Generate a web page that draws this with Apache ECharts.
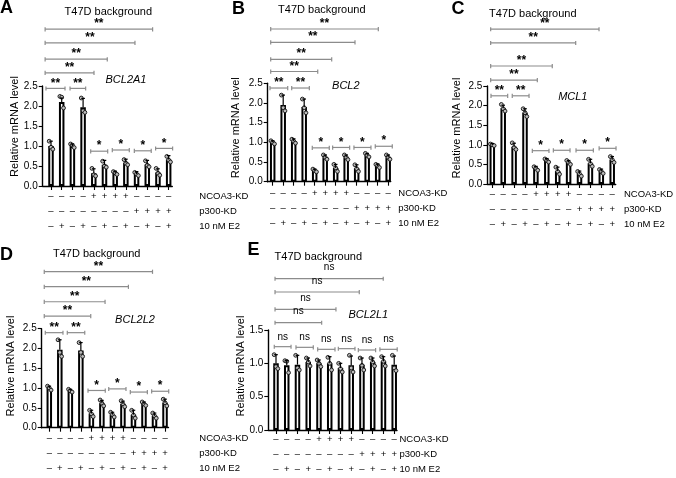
<!DOCTYPE html>
<html><head><meta charset="utf-8">
<script src="https://cdn.jsdelivr.net/npm/echarts@6/dist/echarts.min.js"></script>
<style>html,body{margin:0;padding:0;background:#fff}#c{width:676px;height:478px}</style>
</head><body><div id="c"></div>
<script>
// ---------- data ----------
const ncoa3Row = ['–','–','–','–','+','+','+','+','–','–','–','–'];
const p300Row  = ['–','–','–','–','–','–','–','–','+','+','+','+'];
const e2Row    = ['–','+','–','+','–','+','–','+','–','+','–','+'];
const rowNames = ['NCOA3-KD','p300-KD','10 nM E2'];
const panelLetters = ['A','B','C','D','E'];
const genes = ['BCL2A1','BCL2','MCL1','BCL2L2','BCL2L1'];
const titleText = 'T47D background';
const yAxisName = 'Relative mRNA level';
const yMaxes = [2.5, 2.5, 2.5, 2.5, 1.5];
const barPositions = [1,2,3,4,5,6,7,8,9,10,11,12];

const meanA = [1.0, 2.1, 1.0, 1.97, 0.32, 0.53, 0.32, 0.58, 0.30, 0.54, 0.34, 0.66];
const sdA   = [0.12, 0.10, 0.05, 0.22, 0.11, 0.11, 0.05, 0.09, 0.06, 0.10, 0.09, 0.10];
const dotsA = [[1.12,0.97,0.92],[2.24,2.22,1.95],[1.05,1.02,0.96],[2.2,1.88,1.84],[0.44,0.28,0.25],[0.62,0.5,0.47],
               [0.36,0.33,0.29],[0.66,0.57,0.53],[0.34,0.3,0.26],[0.63,0.52,0.48],[0.44,0.32,0.27],[0.74,0.65,0.6]];

const meanB = [1.0, 1.95, 1.03, 1.9, 0.28, 0.62, 0.35, 0.62, 0.34, 0.67, 0.40, 0.62];
const sdB   = [0.04, 0.25, 0.06, 0.20, 0.04, 0.06, 0.09, 0.06, 0.09, 0.05, 0.05, 0.06];
const dotsB = [[1.04,1.0,0.96],[2.2,1.88,1.8],[1.08,1.03,0.98],[2.1,1.88,1.75],[0.32,0.28,0.25],[0.68,0.62,0.57],
               [0.44,0.35,0.26],[0.68,0.62,0.56],[0.43,0.33,0.26],[0.72,0.67,0.63],[0.44,0.41,0.36],[0.68,0.62,0.57]];

const meanC = [1.0, 1.93, 0.95, 1.82, 0.40, 0.60, 0.33, 0.55, 0.26, 0.53, 0.32, 0.62];
const sdC   = [0.03, 0.08, 0.09, 0.10, 0.05, 0.05, 0.10, 0.05, 0.07, 0.10, 0.06, 0.08];
const dotsC = [[1.02,1.0,0.98],[2.03,1.92,1.86],[1.05,0.93,0.88],[1.92,1.82,1.72],[0.44,0.4,0.35],[0.64,0.6,0.56],
               [0.43,0.32,0.25],[0.6,0.55,0.5],[0.32,0.26,0.2],[0.63,0.52,0.45],[0.37,0.32,0.27],[0.7,0.62,0.55]];

const meanD = [1.0, 1.97, 0.93, 1.95, 0.36, 0.62, 0.33, 0.60, 0.33, 0.60, 0.30, 0.63];
const sdD   = [0.05, 0.25, 0.04, 0.20, 0.08, 0.07, 0.06, 0.07, 0.11, 0.05, 0.07, 0.09];
const dotsD = [[1.05,1.0,0.95],[2.22,1.9,1.8],[0.97,0.93,0.9],[2.15,1.9,1.8],[0.44,0.35,0.28],[0.7,0.62,0.55],
               [0.39,0.33,0.27],[0.68,0.6,0.53],[0.44,0.32,0.24],[0.65,0.6,0.56],[0.37,0.3,0.24],[0.72,0.63,0.55]];

const meanE = [1.0, 0.97, 0.98, 1.02, 1.0, 1.0, 0.93, 0.97, 0.98, 1.02, 1.03, 0.98];
const sdE   = [0.13, 0.07, 0.14, 0.06, 0.05, 0.10, 0.07, 0.14, 0.10, 0.06, 0.07, 0.13];
const dotsE = [[1.13,0.95,0.92],[1.04,1.03,0.86],[1.12,0.93,0.9],[1.08,1.02,0.96],[1.05,1.0,0.95],[1.09,1.0,0.9],
               [1.0,0.92,0.87],[1.12,0.93,0.87],[1.08,0.97,0.9],[1.08,1.02,0.96],[1.1,1.03,0.96],[1.12,0.93,0.89]];

// significance brackets: [from, to, level, label]
const sigA = [[0.45,10.5,3.92,'**'],[0.45,8.85,3.58,'**'],[0.45,6.26,3.17,'**'],[0.45,5.02,2.83,'**'],
              [0.53,2.31,2.44,'**'],[2.78,4.24,2.44,'**'],[4.71,6.3,0.87,'*'],[6.73,8.32,0.9,'*'],[8.79,10.37,0.88,'*'],[10.78,12.37,0.94,'*']];
const sigB = [[0.81,11.06,3.88,'**'],[0.81,8.84,3.54,'**'],[0.81,6.62,3.11,'**'],[0.81,5.29,2.8,'**'],
              [0.74,2.43,2.38,'**'],[2.81,4.49,2.38,'**'],[4.77,6.39,0.86,'*'],[6.71,8.33,0.87,'*'],[8.74,10.36,0.87,'*'],[10.77,12.39,0.9,'*']];
const sigC = [[0.85,10.79,3.95,'**'],[0.85,8.65,3.6,'**'],[0.85,6.5,3.01,'**'],[0.85,5.13,2.65,'**'],
              [0.88,2.41,2.25,'**'],[2.83,4.37,2.25,'**'],[4.67,6.2,0.85,'*'],[6.6,8.13,0.86,'*'],[8.68,10.27,0.86,'*'],[10.8,12.35,0.91,'*']];
const sigD = [[0.52,10.81,3.94,'**'],[0.52,8.52,3.56,'**'],[0.52,6.3,3.18,'**'],[0.52,4.94,2.82,'**'],
              [0.62,2.3,2.4,'**'],[2.71,4.37,2.4,'**'],[4.68,6.32,0.94,'*'],[6.65,8.29,0.98,'*'],[8.7,10.32,0.9,'*'],[10.73,12.35,0.92,'*']];
const sigE = [[0.91,10.98,2.27,'ns'],[0.91,8.75,2.07,'ns'],[0.91,6.58,1.81,'ns'],[0.91,5.25,1.61,'ns'],
              [0.84,2.4,1.25,'ns'],[2.86,4.47,1.24,'ns'],[4.88,6.49,1.21,'ns'],[6.8,8.35,1.22,'ns'],[8.66,10.27,1.2,'ns'],[10.67,12.28,1.21,'ns']];

const means = [meanA, meanB, meanC, meanD, meanE];
const sds = [sdA, sdB, sdC, sdD, sdE];
const dots = [dotsA, dotsB, dotsC, dotsD, dotsE];
const sigs = [sigA, sigB, sigC, sigD, sigE];

// ---------- layout ----------
const FONT = '"Liberation Sans", Arial, Helvetica, sans-serif';
const layout = [
  {left:42.7, top:86,    width:129.6, height:100,  xmin:0.224, xmax:12.34, margin:2.5, rowX:199.3, letter:[0,8.5],     title:[108.3,12.3], gene:[126,80],    yname:[15,126.5]},
  {left:267.7, top:83.3, width:123,   height:98.4, xmin:0.524, xmax:12.24, margin:4,   rowX:398.3, letter:[232,9],     title:[321.8,10],   gene:[345.8,86],  yname:[236,127.7]},
  {left:487.3, top:86,   width:128.4, height:98,   xmin:0.541, xmax:12.32, margin:3,   rowX:624,   letter:[451.5,9],   title:[532.8,14],   gene:[572.8,96.7],yname:[457,128]},
  {left:41.7, top:328.7, width:126.8, height:99,   xmin:0.278, xmax:12.33, margin:3.5, rowX:199.3, letter:[0,255],     title:[96.7,254],   gene:[135,320],   yname:[11,366]},
  {left:268.3, top:330,  width:128.7, height:100,  xmin:0.284, xmax:12.26, margin:2,   rowX:399.5, letter:[247.5,250], title:[318.3,257.3],gene:[368.3,315], yname:[241,366]}
];
const ROW_LH = 15;

const grids = [], xAxes = [], yAxes = [], series = [], graphics = [];
const jitter = [-0.17, 0, 0.17];

layout.forEach((L, k) => {
  grids.push({left:L.left, top:L.top, width:L.width, height:L.height});
  xAxes.push({
    gridIndex:k, type:'value', min:L.xmin, max:L.xmax,
    axisLine:{show:true, onZero:false, lineStyle:{color:'#000', width:1.4}},
    axisTick:{show:true, customValues:barPositions, length:4, lineStyle:{color:'#000', width:1.1}},
    axisLabel:{show:true, customValues:barPositions, margin:L.margin, color:'#000',
      fontFamily:FONT, fontSize:9.5, lineHeight:ROW_LH,
      formatter:(v)=>{const i=Math.round(v)-1; return ncoa3Row[i]+'\n'+p300Row[i]+'\n'+e2Row[i];}},
    splitLine:{show:false}
  });
  yAxes.push({
    gridIndex:k, type:'value', min:0, max:yMaxes[k], interval:0.5,
    axisLine:{show:true, onZero:false, lineStyle:{color:'#000', width:1.4}},
    axisTick:{show:true, length:4, lineStyle:{color:'#000', width:1.1}},
    axisLabel:{margin:5, color:'#000', fontFamily:FONT, fontSize:10, formatter:(v)=>v.toFixed(1)},
    splitLine:{show:false}
  });
  series.push({
    type:'bar', xAxisIndex:k, yAxisIndex:k, barWidth:5.5, z:2,
    itemStyle:{color:'#fff', borderColor:'#000', borderWidth:2},
    data: means[k].map((m,i)=>[barPositions[i], m])
  });
  const dd = [];
  dots[k].forEach((arr,i)=>arr.forEach((v,j)=>dd.push([barPositions[i]+jitter[j], v])));
  series.push({
    type:'scatter', xAxisIndex:k, yAxisIndex:k, z:4, symbol:'circle', symbolSize:3.8,
    itemStyle:{color:'#bdbdbd', borderColor:'#111', borderWidth:0.9, opacity:1},
    data: dd
  });
  series.push({
    type:'custom', xAxisIndex:k, yAxisIndex:k, z:5, clip:false,
    data: means[k].map((m,i)=>[barPositions[i], m, m+sds[k][i]]),
    renderItem:(params, api)=>{
      const p0 = api.coord([api.value(0), api.value(1)]);
      const p1 = api.coord([api.value(0), api.value(2)]);
      const st = {stroke:'#000', lineWidth:1.2};
      return {type:'group', children:[
        {type:'line', shape:{x1:p0[0], y1:p0[1], x2:p1[0], y2:p1[1]}, style:st},
        {type:'line', shape:{x1:p1[0]-1.8, y1:p1[1], x2:p1[0]+1.8, y2:p1[1]}, style:st}
      ]};
    }
  });
  series.push({
    type:'custom', xAxisIndex:k, yAxisIndex:k, z:5, clip:false,
    data: sigs[k].map(s=>[s[0], s[1], s[2]]),
    renderItem:(params, api)=>{
      const s = sigs[k][params.dataIndex];
      const a = api.coord([api.value(0), api.value(2)]);
      const b = api.coord([api.value(1), api.value(2)]);
      const st = {stroke:'#8c8c8c', lineWidth:1.2};
      const isNs = s[3] === 'ns';
      const isLong = params.dataIndex < 4;
      const off = isNs ? (isLong ? 11 : 9.7) : 5.2;
      return {type:'group', children:[
        {type:'line', shape:{x1:a[0], y1:a[1], x2:b[0], y2:b[1]}, style:st},
        {type:'line', shape:{x1:a[0], y1:a[1]-2, x2:a[0], y2:a[1]+2.2}, style:st},
        {type:'line', shape:{x1:b[0], y1:b[1]-2, x2:b[0], y2:b[1]+2.2}, style:st},
        {type:'text', x:(a[0]+b[0])/2, y:a[1]-off, style:{text:s[3], align:'center', verticalAlign:'middle',
          fill:'#000', fontFamily:FONT, fontSize:isNs?10:12, fontWeight:isNs?'normal':'bold'}}
      ]};
    }
  });
  graphics.push({id:'let'+k, type:'text', x:L.letter[0], y:L.letter[1], style:{text:panelLetters[k], fontFamily:FONT, fontSize:18, fontWeight:'bold', fill:'#000', align:'left', verticalAlign:'middle'}});
  graphics.push({id:'tit'+k, type:'text', x:L.title[0], y:L.title[1], style:{text:titleText, fontFamily:FONT, fontSize:11, fill:'#000', align:'center', verticalAlign:'middle'}});
  graphics.push({id:'gen'+k, type:'text', x:L.gene[0], y:L.gene[1], style:{text:genes[k], fontFamily:FONT, fontSize:11, fontStyle:'italic', fill:'#000', align:'center', verticalAlign:'middle'}});
  graphics.push({id:'yn'+k, type:'text', x:L.yname[0], y:L.yname[1], rotation:Math.PI/2, style:{text:yAxisName, fontFamily:FONT, fontSize:11, fill:'#000', align:'center', verticalAlign:'middle'}});
  const axisY = L.top + L.height;
  rowNames.forEach((nm, r)=>{
    graphics.push({id:'row'+k+'_'+r, type:'text', x:L.rowX, y:axisY + L.margin + ROW_LH/2 + r*ROW_LH,
      style:{text:nm, fontFamily:FONT, fontSize:9.5, fill:'#000', align:'left', verticalAlign:'middle'}});
  });
});

const chart = echarts.init(document.getElementById('c'), null, {renderer:'canvas'});
chart.setOption({
  animation:false,
  backgroundColor:'#fff',
  grid:grids, xAxis:xAxes, yAxis:yAxes, series:series,
  graphic:{elements:graphics}
});
</script></body></html>
